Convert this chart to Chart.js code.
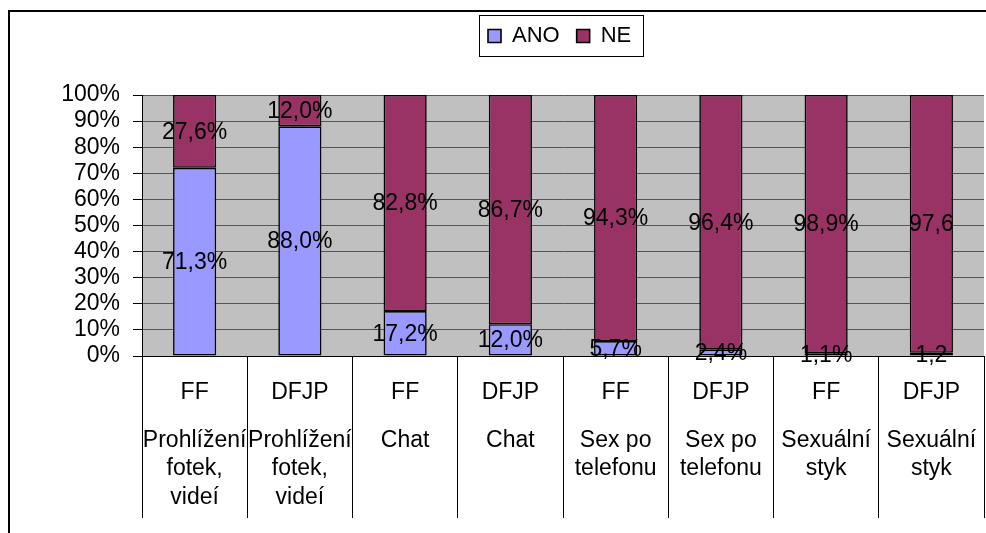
<!DOCTYPE html>
<html>
<head>
<meta charset="utf-8">
<script src="https://cdn.jsdelivr.net/npm/chart.js@4.4.1/dist/chart.umd.min.js"></script>
<style>
  html, body { margin: 0; padding: 0; background: #fff; }
</style>
</head>
<body>
<canvas id="surveyChart" width="986" height="533"></canvas>
<script>
// data
const groups = ['FF', 'DFJP', 'FF', 'DFJP', 'FF', 'DFJP', 'FF', 'DFJP'];
const activities = [
    ['Prohlížení', 'fotek,', 'videí'],
    ['Prohlížení', 'fotek,', 'videí'],
    ['Chat'],
    ['Chat'],
    ['Sex po', 'telefonu'],
    ['Sex po', 'telefonu'],
    ['Sexuální', 'styk'],
    ['Sexuální', 'styk']
];
const anoValues = [71.3, 88.0, 17.2, 12.0, 5.7, 2.4, 1.1, 1.2];
const neValues = [27.6, 12.0, 82.8, 86.7, 94.3, 96.4, 98.9, 97.6];

// 100% stacked: each column is scaled to its own total
const toShare = (vals) => vals.map((v, i) => v / (anoValues[i] + neValues[i]) * 100);

// the last column in the original lost its % sign
const fmt = (v, i) => v.toFixed(1).replace('.', ',') + (i === groups.length - 1 ? '' : '%');

Chart.defaults.font.family = '"Liberation Sans", Arial, sans-serif';
Chart.defaults.color = '#000';

const chartFrame = {
    id: 'chartFrame',
    beforeInit(chart) {
        // leave room between legend and plot
        const fit = chart.legend.fit;
        chart.legend.fit = function () {
            fit.call(this);
            this.height += 38;
        };
    },
    afterLayout(chart) {
        chart.legend.left = 471;
    },
    beforeDraw(chart) {
        const {ctx, chartArea: a} = chart;
        ctx.save();
        ctx.fillStyle = '#C0C0C0';
        ctx.fillRect(a.left, a.top, a.right - a.left, a.bottom - a.top);
        ctx.restore();
    },
    afterDatasetsDraw(chart) {
        const ctx = chart.ctx;
        ctx.save();
        ctx.font = '23px "Liberation Sans", Arial, sans-serif';
        ctx.fillStyle = '#000';
        ctx.textAlign = 'center';
        ctx.textBaseline = 'middle';
        chart.data.datasets.forEach((ds, di) => {
            chart.getDatasetMeta(di).data.forEach((bar, i) => {
                ctx.fillText(fmt(ds.rawValues[i], i), bar.x, (bar.y + bar.base) / 2 + 1);
            });
        });
        ctx.restore();
    },
    afterDraw(chart) {
        const ctx = chart.ctx;
        ctx.save();
        // legend border
        const hb = chart.legend.legendHitBoxes;
        if (hb.length) {
            const first = hb[0], last = hb[hb.length - 1];
            const x0 = Math.round(first.left - 9) + 0.5;
            const x1 = Math.round(last.left + last.width + 12) + 0.5;
            const y0 = Math.round(first.top - 10) + 0.5;
            const y1 = Math.round(first.top + first.height + 9) + 0.5;
            ctx.strokeStyle = '#000';
            ctx.lineWidth = 1;
            ctx.strokeRect(x0, y0, x1 - x0, y1 - y0);
        }
        // outer chart frame (only top and left are visible)
        ctx.strokeStyle = '#000';
        ctx.lineWidth = 2;
        ctx.beginPath();
        ctx.moveTo(9, chart.height);
        ctx.lineTo(9, 11);
        ctx.lineTo(chart.width, 11);
        ctx.stroke();
        ctx.restore();
    }
};

const ctxEl = document.getElementById('surveyChart');

new Chart(ctxEl, {
    type: 'bar',
    data: {
        labels: groups,
        datasets: [
            {
                label: 'ANO',
                data: toShare(anoValues),
                rawValues: anoValues,
                backgroundColor: '#9999FF',
                borderColor: '#000',
                borderWidth: 1.6,
                borderSkipped: false,
                barPercentage: 0.41,
                categoryPercentage: 1
            },
            {
                label: 'NE',
                data: toShare(neValues),
                rawValues: neValues,
                backgroundColor: '#993366',
                borderColor: '#000',
                borderWidth: 1.6,
                borderSkipped: false,
                barPercentage: 0.41,
                categoryPercentage: 1
            }
        ]
    },
    options: {
        responsive: false,
        animation: false,
        devicePixelRatio: 1,
        layout: {
            padding: {top: 8, left: 0, right: 2, bottom: 0}
        },
        plugins: {
            legend: {
                position: 'top',
                align: 'start',
                labels: {
                    boxWidth: 13,
                    boxHeight: 13,
                    padding: 17,
                    font: {size: 22}
                }
            },
            tooltip: {enabled: false}
        },
        scales: {
            x: {
                stacked: true,
                weight: 0,
                offset: true,
                grid: {
                    offset: true,
                    drawOnChartArea: false,
                    color: '#000',
                    tickLength: 47
                },
                border: {color: '#000'},
                ticks: {
                    font: {size: 23},
                    padding: -24,
                    maxRotation: 0,
                    autoSkip: false
                },
                afterFit: (s) => { s.height = 47; }
            },
            x2: {
                type: 'category',
                position: 'bottom',
                labels: activities,
                weight: 1,
                offset: true,
                grid: {
                    offset: true,
                    drawOnChartArea: false,
                    color: '#000',
                    tickLength: 115
                },
                border: {display: false},
                ticks: {
                    font: {size: 23, lineHeight: 1.24},
                    padding: -92,
                    maxRotation: 0,
                    autoSkip: false
                },
                afterFit: (s) => { s.height = 130; }
            },
            y: {
                stacked: true,
                min: 0,
                max: 100,
                grid: {
                    color: '#555',
                    tickColor: '#000',
                    tickLength: 9
                },
                border: {color: '#000'},
                ticks: {
                    stepSize: 10,
                    autoSkip: false,
                    font: {size: 23},
                    padding: 13,
                    callback: (v) => v + '%'
                },
                afterFit: (s) => { s.width = 142; }
            }
        }
    },
    plugins: [chartFrame]
});
</script>
</body>
</html>
